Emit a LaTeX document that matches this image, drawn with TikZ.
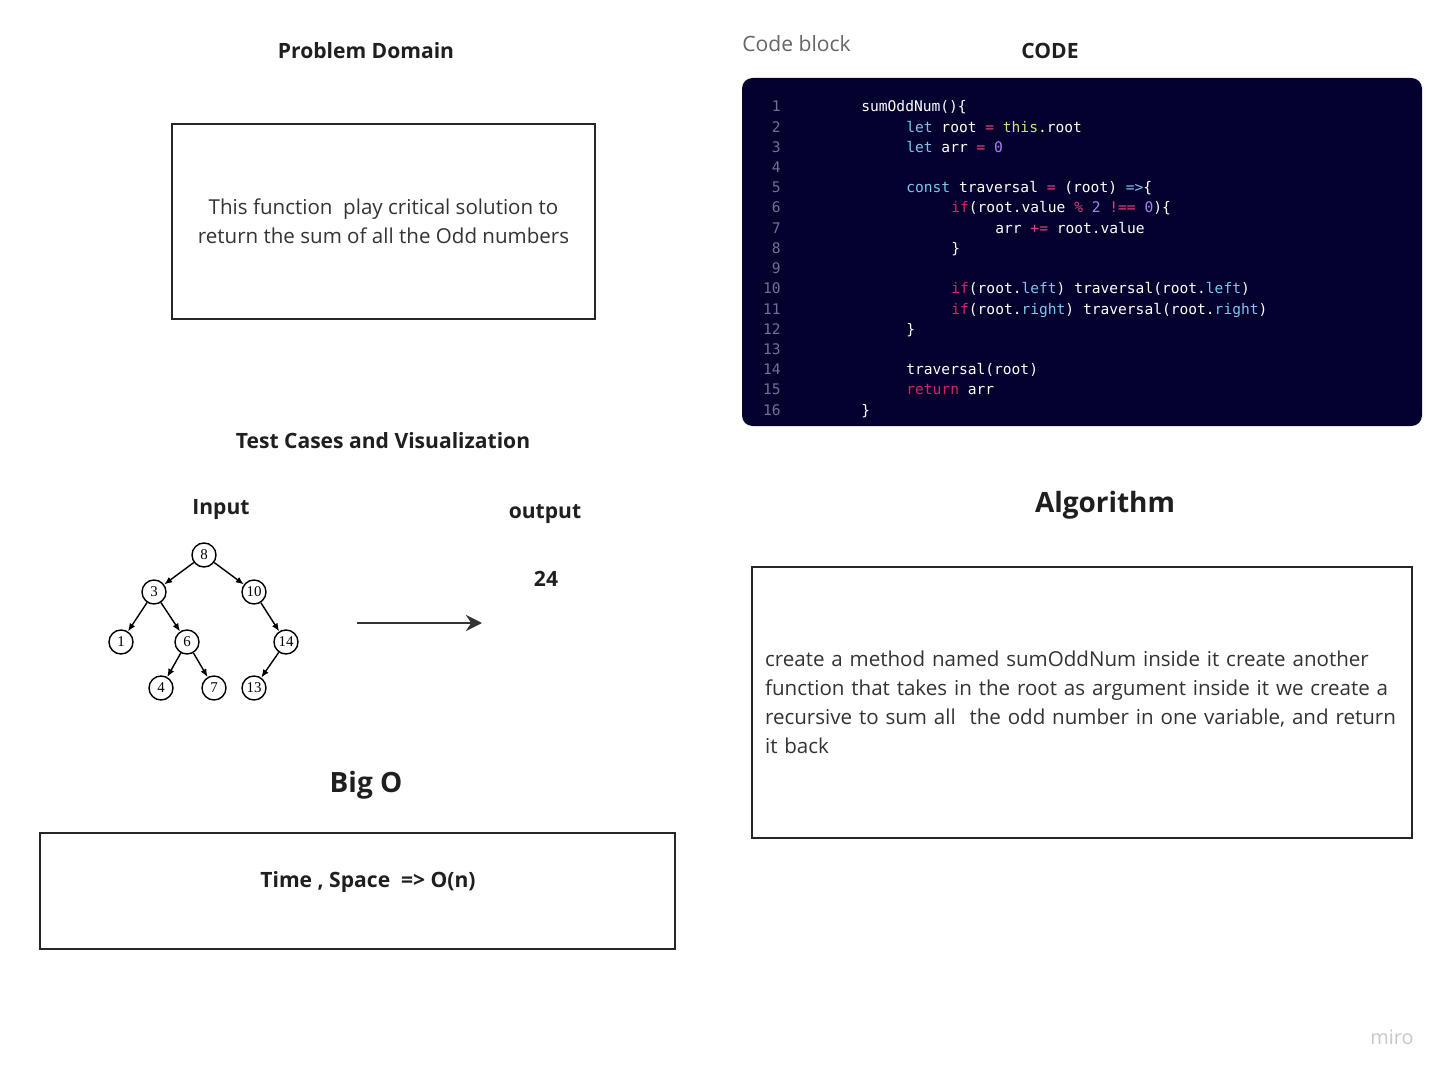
\documentclass[tikz,border=0pt]{standalone}
\usepackage{fontspec}
\setmainfont{Open Sans}
\setmonofont{DejaVu Sans Mono}
\newfontfamily\treefont{Liberation Serif}
\usepackage{xcolor}
\usetikzlibrary{arrows.meta,positioning}

\definecolor{codebg}{HTML}{04012F}
\definecolor{kwblue}{HTML}{7CC7EC}
\definecolor{kwpink}{HTML}{E0447A}
\definecolor{kwred}{HTML}{D9245E}
\definecolor{kwgreen}{HTML}{C6E48B}
\definecolor{kwpurple}{HTML}{A683F2}
\definecolor{lineno}{HTML}{707090}
\definecolor{txtgray}{HTML}{333333}

\newcommand{\kb}[1]{\textcolor{kwblue}{#1}}
\newcommand{\kp}[1]{\textcolor{kwpink}{#1}}
\newcommand{\kr}[1]{\textcolor{kwred}{#1}}
\newcommand{\kg}[1]{\textcolor{kwgreen}{#1}}
\newcommand{\ku}[1]{\textcolor{kwpurple}{#1}}

\begin{document}
\begin{tikzpicture}[
  x=0.02cm, y=-0.02cm,
  heading/.style={font=\bfseries\fontsize{12}{14}\selectfont, text=black!88, inner sep=0},
  bighead/.style={font=\bfseries\fontsize{15.9}{19}\selectfont, text=black!88, inner sep=0},
  box/.style={draw=black!85, line width=1.1pt},
  body/.style={font=\fontsize{11.7}{16.4}\selectfont, text=txtgray},
  codeline/.style={anchor=base west, inner sep=0, font=\ttfamily\fontsize{8.3}{10}\selectfont, text=white},
  lnum/.style={anchor=base east, inner sep=0, font=\ttfamily\fontsize{8.3}{10}\selectfont, text=lineno},
  tnode/.style={circle, draw, thick, minimum size=0.48cm, inner sep=0, font=\treefont\fontsize{8.5}{10}\selectfont},
  tedge/.style={-{Latex[length=1.6mm, width=1.3mm]}, thick},
  bigarrow/.style={-{Stealth[length=3.2mm, width=3.2mm]}, line width=1.4pt, draw=txtgray},
]
\fill[white] (0,0) rectangle (1448,1078);
\useasboundingbox (0,0) rectangle (1448,1078);

% ===== Problem domain =====
\node[heading] (ptitle) at (366,51) {Problem Domain};
\node[box, body, align=center, minimum width=8.46cm, minimum height=3.9cm] (pbox) at (383.5,221.5)
  {This function\ \ play critical solution to\\return the sum of all the Odd numbers};

% ===== Code block =====
\node[font=\fontsize{12}{14}\selectfont, text=black!60, anchor=west, inner sep=0] (ctag) at (742,44) {Code block};
\node[heading] (ctitle) at (1050,51) {CODE};
\fill[codebg, rounded corners=6pt] (742,78) rectangle (1422,426);
\foreach \i in {1,...,16}
  \node[lnum] (n\i) at (781,{112+(\i-1)*20.2}) {\i};

\node[codeline] (l1)  at (861,112.0) {sumOddNum()\{};
\node[codeline] (l2)  at (906,132.2) {\kb{let} root \kp{=} \kg{this}.root};
\node[codeline] (l3)  at (906,152.4) {\kb{let} arr \kp{=} \ku{0}};
\node[codeline] (l5)  at (906,192.8) {\kb{const} traversal \kp{=} (root) \kb{=>}\{};
\node[codeline] (l6)  at (951,213.0) {\kr{if}(root.value \kp{\%} \ku{2} \kp{!==} \ku{0})\{};
\node[codeline] (l7)  at (995,233.2) {arr \kp{+=} root.value};
\node[codeline] (l8)  at (951,253.4) {\}};
\node[codeline] (l10) at (951,293.8) {\kr{if}(root.\kb{left}) traversal(root.\kb{left})};
\node[codeline] (l11) at (951,314.0) {\kr{if}(root.\kb{right}) traversal(root.\kb{right})};
\node[codeline] (l12) at (906,334.2) {\}};
\node[codeline] (l14) at (906,374.6) {traversal(root)};
\node[codeline] (l15) at (906,394.8) {\kr{return} arr};
\node[codeline] (l16) at (861,415.0) {\}};

% ===== Test cases =====
\node[heading] (ttitle) at (383,441) {Test Cases and Visualization};
\node[heading] (intitle) at (221,510) {Input};
\node[heading] (outtitle) at (545,514) {output};
\node[heading] (outval) at (546,579) {24};

\node[tnode] (t8)  at (204,555) {8};
\node[tnode] (t3)  at (154,592) {3};
\node[tnode] (t10) at (254,592) {10};
\node[tnode] (t1)  at (121,642) {1};
\node[tnode] (t6)  at (187,642) {6};
\node[tnode] (t14) at (286,642) {14};
\node[tnode] (t4)  at (161,688) {4};
\node[tnode] (t7)  at (214,688) {7};
\node[tnode] (t13) at (254,688) {13};

\draw[tedge] (t8) -- (t3);
\draw[tedge] (t8) -- (t10);
\draw[tedge] (t3) -- (t1);
\draw[tedge] (t3) -- (t6);
\draw[tedge] (t10) -- (t14);
\draw[tedge] (t6) -- (t4);
\draw[tedge] (t6) -- (t7);
\draw[tedge] (t14) -- (t13);

\coordinate (astart) at (357,623);
\coordinate (aend) at (482,623);
\draw[bigarrow] (astart) -- (aend);

% ===== Big O =====
\node[bighead] (btitle) at (366,785) {Big O};
\node[box, minimum width=12.7cm, minimum height=2.32cm] (bbox) at (357.5,891) {};
\node[heading] (btext) at (368,882) {Time , Space\ \ => O(n)};

% ===== Algorithm =====
\node[bighead] (atitle) at (1105,505) {Algorithm};
\node[box, body, align=left, minimum width=13.2cm, minimum height=5.42cm, text width=12.68cm, inner sep=0.26cm] (abox) at (1082,702.5)
  {create a method named sumOddNum inside it create another\\
   function that takes in the root as argument inside it we create a\\
   recursive to sum all\ \ the odd number in one variable, and return\\
   it back};

\node[font=\fontsize{11.3}{14}\selectfont, text=black!22, inner sep=0] (logo) at (1392,1037) {miro};
\end{tikzpicture}
\end{document}
